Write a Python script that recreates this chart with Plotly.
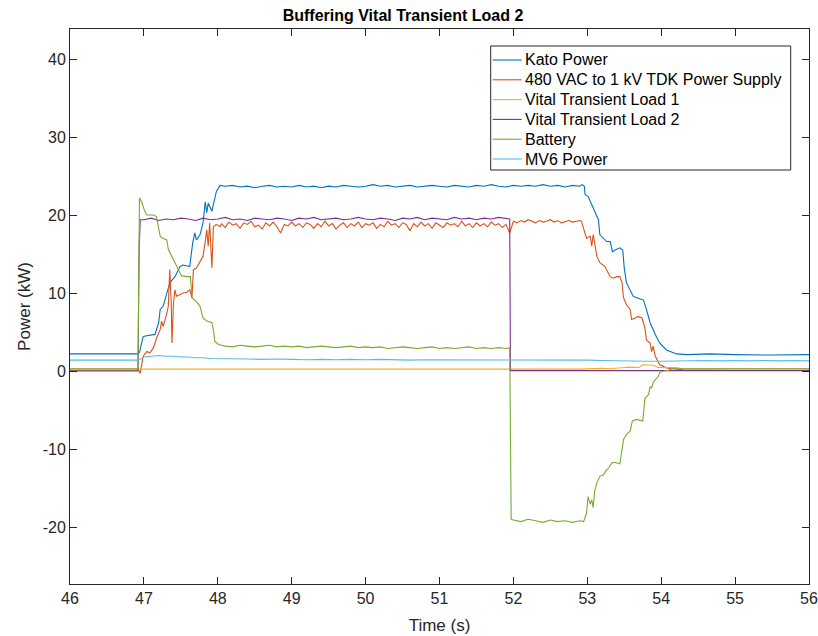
import plotly.graph_objects as go

# ---------------- data ----------------
kato_t = [46.0, 46.92, 46.94, 46.99, 47.02, 47.1, 47.15, 47.2, 47.22, 47.26, 47.31, 47.35, 47.42,
          47.49, 47.53, 47.58, 47.62, 47.66, 47.69, 47.71, 47.76, 47.8, 47.83, 47.85, 47.87, 47.92,
          47.96, 47.98, 48.03,
          48.1, 48.2, 48.3, 48.4, 48.5, 48.6, 48.7, 48.8, 48.9, 49.0,
          49.1, 49.2, 49.3, 49.4, 49.5, 49.6, 49.7, 49.8, 49.9, 50.0,
          50.1, 50.2, 50.3, 50.4, 50.5, 50.6, 50.7, 50.8, 50.9, 51.0,
          51.1, 51.2, 51.3, 51.4, 51.5, 51.6, 51.7, 51.8, 51.9, 52.0,
          52.1, 52.2, 52.3, 52.4, 52.5, 52.6, 52.7, 52.8, 52.9,
          52.93, 52.96, 52.97, 53.01, 53.06, 53.1, 53.15, 53.17, 53.22, 53.26, 53.31, 53.34,
          53.37, 53.44, 53.48, 53.5, 53.53, 53.58, 53.62, 53.67, 53.76, 53.8, 53.85, 53.92,
          53.98, 54.07, 54.21, 54.35, 54.66, 55.0, 55.5, 56.0]
kato_p = [2.2, 2.2, 2.4, 4.4, 4.5, 4.6, 4.7, 6.2, 7.9, 8.3, 10.0, 11.3, 12.1,
          13.4, 13.6, 13.5, 13.4, 16.4, 17.7, 16.8, 17.5, 19.0, 21.7, 20.3, 21.5, 20.5,
          22.0, 23.0, 23.8,
          23.7, 23.8, 23.6, 23.7, 23.5, 23.7, 23.8, 23.6, 23.7, 23.6,
          23.8, 23.6, 23.7, 23.5, 23.7, 23.6, 23.8, 23.7, 23.6, 23.7,
          23.9, 23.7, 23.8, 23.6, 23.7, 23.8, 23.6, 23.7, 23.8, 23.7,
          23.6, 23.8, 23.7, 23.6, 23.8, 23.7, 23.9, 23.7, 23.6, 23.8,
          23.7, 23.8, 23.7, 23.9, 23.7, 23.8, 23.6, 23.8, 23.7,
          23.9, 23.7, 22.6, 22.4, 21.3, 20.5, 19.4, 17.5, 17.0, 16.6, 16.6, 15.3,
          15.5, 15.8, 15.5, 13.2, 11.3, 10.4, 9.6, 9.4, 9.1, 7.9, 6.2, 4.7,
          3.6, 2.7, 2.2, 2.1, 2.2, 2.1, 2.05, 2.1]

tdk_t = [46.0, 46.9, 46.925, 46.95, 46.99, 47.04, 47.08, 47.13, 47.17, 47.22, 47.24, 47.26, 47.31,
         47.33, 47.35, 47.37, 47.38, 47.4, 47.42, 47.44, 47.49, 47.53, 47.58, 47.62, 47.65, 47.67,
         47.71, 47.76, 47.8, 47.83, 47.85, 47.87, 47.89, 47.92, 47.94, 47.98, 48.03,
         48.05, 48.1, 48.15, 48.2, 48.25, 48.3, 48.35, 48.4, 48.45, 48.5,
         48.55, 48.6, 48.65, 48.7, 48.75, 48.8, 48.85, 48.9, 48.95, 49.0,
         49.05, 49.1, 49.15, 49.2, 49.25, 49.3, 49.35, 49.4, 49.45, 49.5,
         49.55, 49.6, 49.65, 49.7, 49.75, 49.8, 49.85, 49.9, 49.95, 50.0,
         50.05, 50.1, 50.15, 50.2, 50.25, 50.3, 50.35, 50.4, 50.45, 50.5,
         50.55, 50.6, 50.65, 50.7, 50.75, 50.8, 50.85, 50.9, 50.95, 51.0,
         51.05, 51.1, 51.15, 51.2, 51.25, 51.3, 51.35, 51.4, 51.45, 51.5,
         51.55, 51.6, 51.65, 51.7, 51.75, 51.8, 51.85, 51.9, 51.95,
         52.0, 52.05, 52.1, 52.15, 52.2, 52.25, 52.3, 52.35, 52.4, 52.45,
         52.5, 52.55, 52.6, 52.65, 52.7, 52.75, 52.8, 52.85, 52.9,
         52.92, 52.97, 52.99, 53.04, 53.06, 53.08, 53.1, 53.13, 53.17, 53.24, 53.26, 53.31,
         53.35, 53.4, 53.44, 53.47, 53.49, 53.53, 53.58, 53.6, 53.65, 53.69, 53.74, 53.78,
         53.8, 53.85, 53.87, 53.89, 53.92, 53.96, 53.98, 54.03, 54.07, 54.16, 54.3, 55.0, 56.0]
tdk_p = [0.1, 0.1, 0.2, -0.3, 1.9, 2.5, 2.3, 3.0, 4.2, 5.3, 6.4, 5.7, 7.4,
         8.3, 13.0, 8.8, 3.6, 8.7, 10.4, 9.6, 9.8, 10.0, 10.1, 10.4, 9.4, 13.0,
         13.2, 14.1, 14.7, 16.6, 18.1, 16.0, 19.0, 13.2, 18.5, 18.8, 18.5,
         18.9, 18.4, 19.1, 18.7, 18.9, 18.3, 19.0, 18.8, 19.2, 18.5,
         18.7, 18.2, 19.0, 18.6, 19.1, 18.5, 17.7, 18.8, 18.6, 19.1,
         18.6, 18.9, 18.4, 19.0, 18.8, 18.3, 18.9, 18.5, 19.2, 18.6,
         18.9, 18.2, 18.7, 19.0, 18.4, 18.9, 18.6, 19.1, 18.4, 18.9,
         18.7, 19.0, 18.3, 18.8, 18.5, 19.2, 18.7, 18.9, 18.4, 19.0,
         18.8, 18.0, 18.9, 18.5, 19.1, 18.6, 18.9, 18.3, 19.0, 18.7,
         18.4, 19.0, 18.7, 18.9, 18.5, 19.2, 18.6, 18.9, 18.4, 19.0,
         18.6, 18.9, 18.5, 19.1, 18.7, 18.9, 18.4, 18.8, 17.7,
         19.2, 19.0, 19.3, 19.1, 19.4, 19.2, 19.0, 19.3, 19.1, 19.2,
         19.4, 19.1, 19.3, 19.0, 19.2, 19.3, 19.1, 19.2, 19.3,
         19.2, 17.7, 17.0, 17.3, 16.0, 17.5, 16.2, 14.7, 13.9, 13.4, 13.0, 12.1,
         11.9, 12.1, 12.1, 11.3, 9.4, 8.5, 7.9, 6.6, 6.8, 7.0, 6.8, 5.5,
         4.0, 3.6, 2.5, 3.2, 1.9, 1.2, 0.8, 0.6, 0.4, 0.3, 0.15, 0.1, 0.1]

vtl1_t = [46.0, 52.9, 53.2, 53.3, 53.5, 53.55, 53.7, 53.75, 53.9, 53.95, 54.2, 54.3, 56.0]
vtl1_p = [0.25, 0.25, 0.35, 0.3, 0.45, 0.5, 0.45, 0.8, 0.75, 0.45, 0.45, 0.3, 0.3]

vtl2_t = [46.0, 46.92, 46.935, 46.95,
          47.0, 47.1, 47.2, 47.3, 47.4, 47.5, 47.6, 47.7, 47.8, 47.9,
          48.0, 48.1, 48.2, 48.3, 48.4, 48.5, 48.6, 48.7, 48.8, 48.9,
          49.0, 49.1, 49.2, 49.3, 49.4, 49.5, 49.6, 49.7, 49.8, 49.9,
          50.0, 50.1, 50.2, 50.3, 50.4, 50.5, 50.6, 50.7, 50.8, 50.9,
          51.0, 51.1, 51.2, 51.3, 51.4, 51.5, 51.6, 51.7, 51.8, 51.9,
          51.95, 51.96, 56.0]
vtl2_p = [0.0, 0.0, 15.5, 19.4,
          19.4, 19.6, 19.3, 19.5, 19.4, 19.6, 19.5, 19.3, 19.6, 19.4,
          19.5, 19.7, 19.4, 19.5, 19.3, 19.6, 19.5, 19.4, 19.6, 19.5,
          19.3, 19.6, 19.5, 19.7, 19.4, 19.5, 19.6, 19.4, 19.5, 19.7,
          19.5, 19.4, 19.6, 19.5, 19.3, 19.6, 19.5, 19.7, 19.4, 19.6,
          19.5, 19.4, 19.7, 19.5, 19.6, 19.4, 19.6, 19.5, 19.7, 19.6,
          19.5, 0.05, 0.05]

batt_t = [46.0, 46.92, 46.94, 46.97, 47.01, 47.04, 47.13, 47.17, 47.2, 47.22, 47.26, 47.31,
          47.33, 47.38, 47.42, 47.47, 47.51, 47.58, 47.63, 47.65, 47.71, 47.76, 47.8, 47.85,
          47.92, 47.94, 47.96, 48.01,
          48.1, 48.2, 48.3, 48.4, 48.5, 48.6, 48.7, 48.8, 48.9, 49.0,
          49.1, 49.2, 49.3, 49.4, 49.5, 49.6, 49.7, 49.8, 49.9, 50.0,
          50.1, 50.2, 50.3, 50.4, 50.5, 50.6, 50.7, 50.8, 50.9, 51.0,
          51.1, 51.2, 51.3, 51.4, 51.5, 51.6, 51.7, 51.8, 51.9,
          51.95, 51.97,
          52.0, 52.1, 52.2, 52.3, 52.4, 52.5, 52.6, 52.7, 52.8, 52.9,
          52.95, 52.99, 53.01, 53.04, 53.06, 53.08, 53.1, 53.13, 53.17, 53.22, 53.25, 53.29,
          53.33, 53.37, 53.44, 53.47, 53.49, 53.53, 53.58, 53.61, 53.67, 53.75, 53.78, 53.83,
          53.85, 53.87, 53.89, 53.92, 53.96, 53.98, 54.03, 54.1, 54.14, 55.0, 56.0]
batt_p = [0.3, 0.3, 22.2, 21.7, 20.5, 20.0, 20.0, 19.8, 18.3, 17.3, 17.0, 16.8,
          15.6, 14.7, 13.9, 13.0, 12.2, 12.1, 12.1, 9.4, 8.9, 8.3, 6.8, 6.4,
          6.2, 5.3, 3.8, 3.4,
          3.2, 3.1, 3.3, 3.2, 3.1, 3.2, 3.3, 3.1, 3.2, 3.1,
          3.2, 3.0, 3.1, 3.2, 3.1, 3.0, 3.1, 3.2, 3.0, 3.1,
          3.0, 3.1, 2.9, 3.0, 3.1, 3.0, 2.9, 3.0, 3.1, 2.9,
          3.0, 2.9, 3.0, 3.1, 2.9, 3.0, 2.9, 3.0, 2.9,
          3.0, -19.0,
          -19.1, -19.3, -19.0, -19.2, -19.4, -19.1, -19.3, -19.2, -19.4, -19.2,
          -19.3, -18.2, -16.1, -17.1, -16.5, -17.5, -15.4, -14.3, -13.5, -13.3, -12.8, -12.4,
          -11.8, -11.7, -11.9, -10.1, -8.8, -8.1, -7.7, -6.4, -6.2, -6.4, -3.5, -3.0,
          -2.0, -2.2, -1.5, -1.1, -0.7, -0.2, 0.0, 0.1, 0.3, 0.3, 0.3]

mv6_t = [46.0, 46.92, 46.95, 47.0, 47.1, 47.2, 47.3, 47.4, 47.5, 47.6, 47.7, 47.8, 47.9, 48.0,
         48.2, 48.4, 48.6, 48.8, 49.0, 49.2, 49.4, 49.6, 49.8, 50.0,
         50.2, 50.4, 50.6, 50.8, 51.0, 51.2, 51.4, 51.6, 51.8, 52.0,
         52.2, 52.4, 52.6, 52.8, 53.0, 53.2, 53.4, 53.6, 53.8, 54.0,
         54.2, 54.4, 54.6, 54.8, 55.0, 55.2, 55.4, 55.6, 55.8, 56.0]
mv6_p = [1.4, 1.4, 1.5, 1.8, 1.9, 2.0, 1.9, 1.9, 1.8, 1.8, 1.7, 1.7, 1.6, 1.6,
         1.6, 1.55, 1.5, 1.55, 1.5, 1.45, 1.5, 1.45, 1.5, 1.45,
         1.5, 1.45, 1.4, 1.45, 1.45, 1.4, 1.45, 1.4, 1.45, 1.4,
         1.45, 1.4, 1.4, 1.45, 1.4, 1.35, 1.3, 1.3, 1.25, 1.25,
         1.3, 1.3, 1.35, 1.3, 1.35, 1.3, 1.35, 1.3, 1.35, 1.3]

series_names = ["Kato Power", "480 VAC to 1 kV TDK Power Supply", "Vital Transient Load 1",
                "Vital Transient Load 2", "Battery", "MV6 Power"]
series_t = [kato_t, tdk_t, vtl1_t, vtl2_t, batt_t, mv6_t]
series_p = [kato_p, tdk_p, vtl1_p, vtl2_p, batt_p, mv6_p]
series_colors = ["#0072BD", "#D95319", "#EDB120", "#7E2F8E", "#77AC30", "#4DBEEE"]

x_ticks = [46, 47, 48, 49, 50, 51, 52, 53, 54, 55, 56]
y_ticks = [-20, -10, 0, 10, 20, 30, 40]
y_tick_labels = ["-20", "-10", "0", "10", "20", "30", "40"]

# ---------------- figure ----------------
W, H = 818, 636
ML, MR, MT, MB = 70, 9, 29, 52
PW, PH = W - ML - MR, H - MT - MB


def px_to_paper_x(px):
    return (px - ML) / PW


def px_to_paper_y(py):
    return (H - MB - py) / PH


fig = go.Figure()
for name, t, p, c in zip(series_names, series_t, series_p, series_colors):
    fig.add_trace(go.Scatter(x=t, y=p, mode="lines", name=name, showlegend=False,
                             line=dict(color=c, width=1.1)))

axis_col = "#262626"
font_fam = "Liberation Sans, Arial, sans-serif"
common = dict(showline=True, linecolor=axis_col, linewidth=1, mirror="ticks",
              ticks="inside", ticklen=7, tickcolor=axis_col, showgrid=False,
              zeroline=False, automargin=False,
              tickfont=dict(family=font_fam, size=16, color=axis_col))

# legend box drawn in paper coordinates (MATLAB-style legend)
leg_left, leg_right, leg_top, leg_bottom = 490.7, 790.7, 46, 170
leg_first_row, leg_row_step = 60, 19.8
shapes = [dict(type="rect", xref="paper", yref="paper",
               x0=px_to_paper_x(leg_left), x1=px_to_paper_x(leg_right),
               y0=px_to_paper_y(leg_bottom), y1=px_to_paper_y(leg_top),
               line=dict(color=axis_col, width=1), fillcolor="white", layer="above")]
annotations = []
for i, (name, c) in enumerate(zip(series_names, series_colors)):
    yc = leg_first_row + leg_row_step * i
    shapes.append(dict(type="line", xref="paper", yref="paper",
                       x0=px_to_paper_x(492.7), x1=px_to_paper_x(521.7),
                       y0=px_to_paper_y(yc), y1=px_to_paper_y(yc),
                       line=dict(color=c, width=1.1), layer="above"))
    annotations.append(dict(text=name, xref="paper", yref="paper",
                            x=px_to_paper_x(522.5), y=px_to_paper_y(yc),
                            xanchor="left", yanchor="middle", showarrow=False,
                            font=dict(family=font_fam, size=16, color="black")))

fig.update_layout(
    width=W, height=H,
    margin=dict(l=ML, r=MR, t=MT, b=MB),
    paper_bgcolor="white", plot_bgcolor="white",
    title=dict(text="<b>Buffering Vital Transient Load 2</b>", x=403 / W, xanchor="center",
               y=1 - 15 / H, yanchor="middle", yref="container",
               font=dict(family=font_fam, size=16, color="black")),
    xaxis=dict(range=[46, 56], tickvals=x_ticks,
               title=dict(text="Time (s)", standoff=12,
                          font=dict(family=font_fam, size=17, color=axis_col)),
               **common),
    yaxis=dict(range=[-27.3, 43.85], tickvals=y_ticks, ticktext=y_tick_labels,
               title=dict(text="Power (kW)", standoff=7,
                          font=dict(family=font_fam, size=17, color=axis_col)),
               **common),
    shapes=shapes,
    annotations=annotations,
    showlegend=False,
)

fig.write_html("out.html")
